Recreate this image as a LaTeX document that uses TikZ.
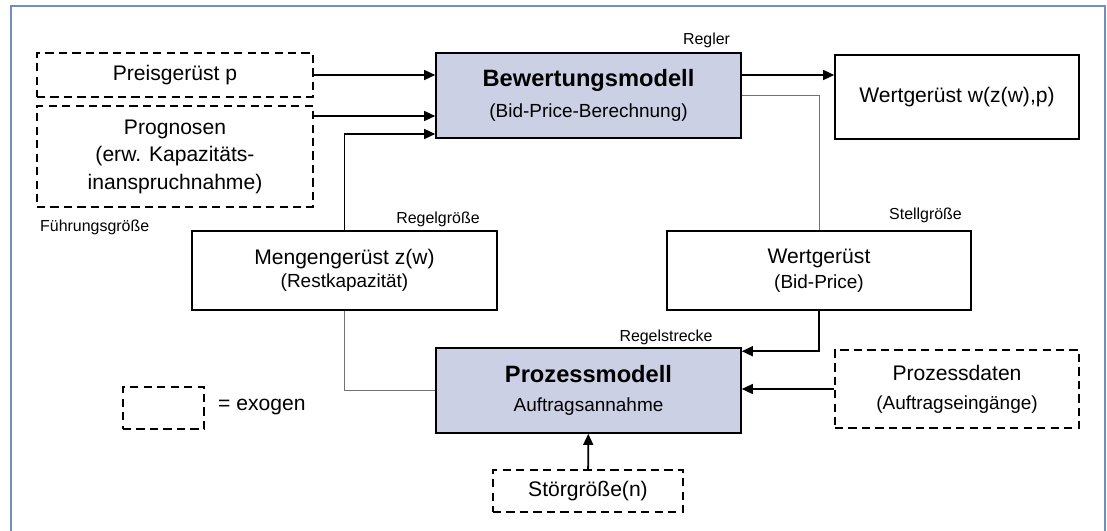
\documentclass[tikz,border=0pt]{standalone}
\usepackage{fontspec}
\setmainfont{Liberation Sans}
\usepackage{tikz}
\usetikzlibrary{calc}
\usetikzlibrary{positioning}
\usetikzlibrary{arrows.meta}
\definecolor{modelfill}{RGB}{204,208,228}
\definecolor{framecol}{RGB}{112,142,192}
\definecolor{linkgray}{RGB}{115,115,115}
\newcommand{\fntMain}{\fontsize{18}{19.5}\selectfont}
\newcommand{\fntSub}{\fontsize{16.2}{19.5}\selectfont}
\newcommand{\fntHead}{\fontsize{20.2}{19.5}\selectfont\bfseries}
\newcommand{\fntTag}{\fontsize{13.6}{15}\selectfont}
\tikzset{
  blk/.style = {draw=black, line width=1.3pt, align=center, inner sep=0pt,
    font=\fntMain},
  blk_m/.style = {blk, fill=modelfill},                 % model block
  blk_x/.style = {blk, dash pattern=on 7pt off 4.5pt},  % exogenous block
  tag/.style = {inner sep=0pt, font=\fntTag},
  flow/.style = {->, line width=1.5pt},
  link/.style = {draw=linkgray, line width=0.8pt}
}

\begin{document}
\begin{tikzpicture}[x=0.03cm, y=-0.03cm, >={Triangle[length=9.5pt,width=8.5pt]}]
  \useasboundingbox (0,0) rectangle (1107,531);
  \draw[framecol, line width=1.2pt] (11,531) -- (11,6) -- (1105,6) -- (1105,531);

  % exogene Groessen
  \node[blk_x, minimum width=8.28cm, minimum height=1.32cm] (preis) at (175,75) {Preisgerüst p};
  \node[blk_x, minimum width=8.28cm, minimum height=3.03cm] (prog) at (175,156.5)
    {Prognosen\\[4pt](erw. Kapazitäts-\\[4pt]inanspruchnahme)};
  \node[blk_x, minimum width=7.32cm, minimum height=2.34cm] (pdat) at (957,389)
    {Prozessdaten\\[5pt]{\fntSub (Auftragseingänge)}};
  \node[blk_x, minimum width=5.7cm, minimum height=1.26cm] (stoer) at (588,491) {Störgröße(n)};

  % Modelle
  \node[blk_m, minimum width=9.15cm, minimum height=2.55cm] (bew) at (588.5,95.5)
    {{\fntHead Bewertungsmodell}\\[7pt]{\fntSub (Bid-Price-Berechnung)}};
  \node[blk_m, minimum width=9.15cm, minimum height=2.55cm] (proz) at (588.5,390.5)
    {{\fntHead Prozessmodell}\\[5pt]{\fntSub Auftragsannahme}};

  % Gerueste
  \node[blk, minimum width=7.32cm, minimum height=2.52cm] (wz) at (957,97) {Wertgerüst w(z(w),p)};
  \node[blk, minimum width=9.15cm, minimum height=2.37cm] (meng) at (344.5,270.5)
    {Mengengerüst z(w)\\{\fntSub (Restkapazität)}};
  \node[blk, minimum width=9.12cm, minimum height=2.37cm] (wbp) at (819,270.5)
    {Wertgerüst\\[1.5pt]{\fntSub (Bid-Price)}};

  % Bezeichnungen
  \node[tag] (regler) at (706.5,40) {Regler};
  \node[tag, anchor=west] (fuehr) at (40,227) {Führungsgröße};
  \node[tag] (regelgr) at (438,219) {Regelgröße};
  \node[tag] (stellgr) at (925.5,215) {Stellgröße};
  \node[tag] (regelstr) at (666,337) {Regelstrecke};

  % Legende
  \node[blk_x, minimum width=2.43cm, minimum height=1.26cm] (legbox) at (163.5,408) {};
  \node[anchor=west, inner sep=0pt, font=\fntMain] (legtxt) at (218,407) {= exogen};

  % Verbindungen
  \coordinate (bewin2) at ($(bew.west)+(0,20.5)$);
  \coordinate (bewin3) at ($(bew.west)+(0,38.5)$);
  \coordinate (bewout) at ($(bew.east)+(0,-20.5)$);
  \coordinate (prozin) at ($(proz.north east)+(0,4)$);
  \draw[flow] (preis.east) -- (preis.east -| bew.west);
  \draw[flow] (bewin2 -| prog.east) -- (bewin2);
  \draw[flow] (meng.north) |- (bewin3);
  \draw[flow] (bewout) -- (bewout -| wz.west);
  \draw[link] (bew.east) -| (wbp.north);
  \draw[link] (meng.south) |- (proz.west);
  \draw[flow] (wbp.south) |- (prozin);
  \draw[flow] (pdat.west) -- (pdat.west -| proz.east);
  \draw[flow] (stoer) -- (proz);
\end{tikzpicture}
\end{document}
